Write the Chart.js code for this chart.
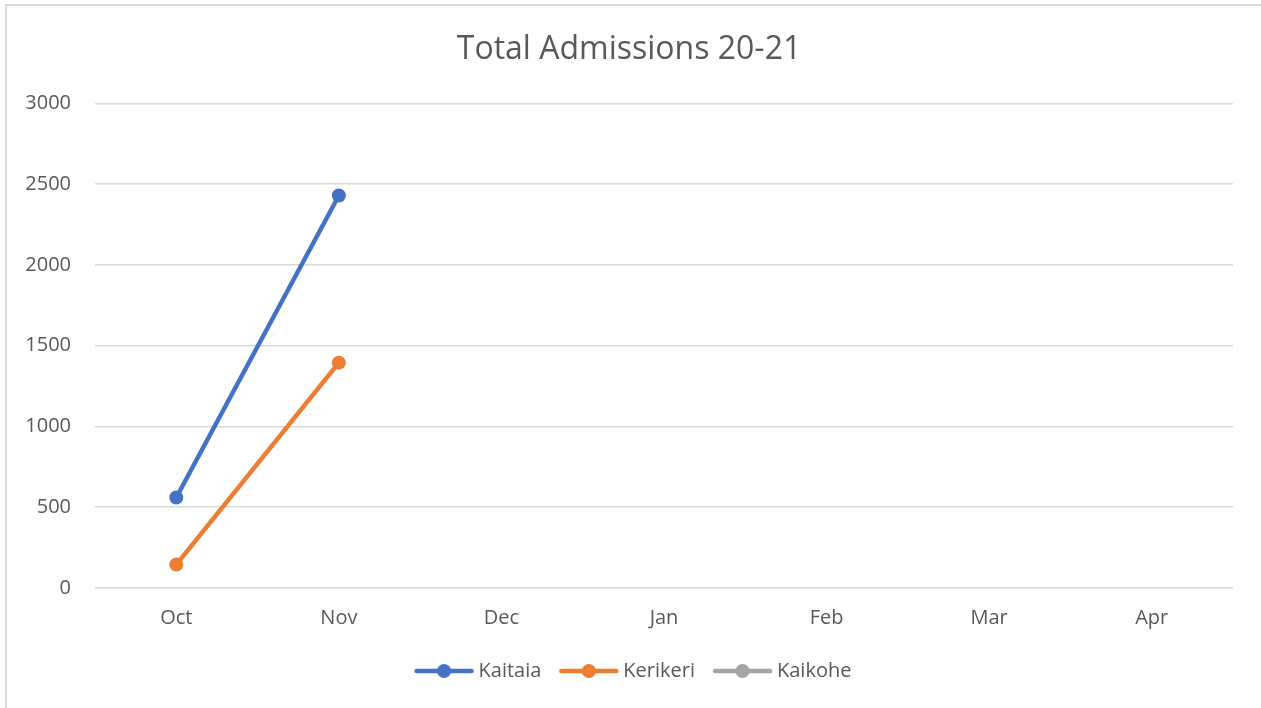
<!DOCTYPE html>
<html>
<head>
<meta charset="utf-8">
<script src="https://cdn.jsdelivr.net/npm/chart.js@4/dist/chart.umd.min.js"></script>
<style>
  html, body { margin: 0; padding: 0; background: #fff; }
  #wrap { position: relative; width: 1261px; height: 708px; }
  #frame { position: absolute; left: 5px; top: 4px; right: 0; bottom: 0;
           border-left: 2px solid #d9d9d9; border-top: 2px solid #d9d9d9; }
  canvas { position: absolute; left: 0; top: 0; }
</style>
</head>
<body>
<div id="wrap">
  <div id="frame"></div>
  <canvas id="chart" width="1261" height="708"></canvas>
</div>
<script>
const months = ["Oct", "Nov", "Dec", "Jan", "Feb", "Mar", "Apr"];
const kaitaia = [560, 2430, null, null, null, null, null];
const kerikeri = [145, 1395, null, null, null, null, null];
const kaikohe = [null, null, null, null, null, null, null];

const FONT = "'Open Sans', 'DejaVu Sans', sans-serif";
const TEXT = "#595959";
const BOX = 62; // legend box width, includes the gap before each item

// legend marker: line with a dot, drawn at the right end of a wide image
const marker = color => {
  const c = document.createElement("canvas");
  c.width = BOX * 2; c.height = 16;
  const g = c.getContext("2d");
  const x1 = BOX * 1.5 - 54, x2 = BOX * 1.5 + 5;
  g.strokeStyle = color;
  g.lineWidth = 4.5;
  g.lineCap = "round";
  g.beginPath(); g.moveTo(x1 + 2, 8); g.lineTo(x2 - 2, 8); g.stroke();
  g.fillStyle = color;
  g.beginPath(); g.arc((x1 + x2) / 2, 8, 7, 0, Math.PI * 2); g.fill();
  return c;
};

const series = [
  { label: "Kaitaia", data: kaitaia, color: "#4472C4" },
  { label: "Kerikeri", data: kerikeri, color: "#ED7D31" },
  { label: "Kaikohe", data: kaikohe, color: "#A5A5A5" },
];

const ctx = document.getElementById("chart").getContext("2d");
new Chart(ctx, {
  type: "line",
  data: {
    labels: months,
    datasets: series.map(s => ({
      label: s.label,
      data: s.data,
      borderColor: s.color,
      backgroundColor: s.color,
      borderWidth: 4.5,
      pointRadius: 7,
      pointHoverRadius: 7,
      pointBorderWidth: 0,
      pointStyle: "circle",
      fill: false,
      tension: 0,
    })),
  },
  options: {
    responsive: false,
    animation: false,
    layout: { padding: { left: 25, right: 28, top: 22, bottom: 17 } },
    plugins: {
      title: {
        display: true,
        text: "Total Admissions 20-21",
        color: TEXT,
        font: { family: FONT, size: 32, weight: "normal" },
        padding: { top: 9, bottom: 34 },
      },
      legend: {
        position: "bottom",
        labels: {
          color: TEXT,
          font: { family: FONT, size: 20 },
          usePointStyle: true,
          pointStyleWidth: BOX,
          padding: 10,
          generateLabels: chart => chart.data.datasets.map((ds, i) => ({
            text: ds.label,
            pointStyle: marker(ds.borderColor),
            fontColor: TEXT,
            hidden: false,
            datasetIndex: i,
            lineWidth: 0,
          })),
        },
      },
      tooltip: { enabled: false },
    },
    scales: {
      x: {
        offset: true,
        grid: { display: false },
        border: { display: false },
        ticks: { color: TEXT, font: { family: FONT, size: 20 }, padding: 10 },
        afterFit: s => { s.height += 11; },
      },
      y: {
        min: 0,
        max: 3000,
        grid: { color: "#d9d9d9", lineWidth: 1.5, drawTicks: false },
        border: { display: false },
        ticks: {
          stepSize: 500,
          color: TEXT,
          font: { family: FONT, size: 20 },
          padding: 24,
          callback: v => String(v),
        },
        afterFit: s => { s.width = 70; },
      },
    },
  },
});
</script>
</body>
</html>
